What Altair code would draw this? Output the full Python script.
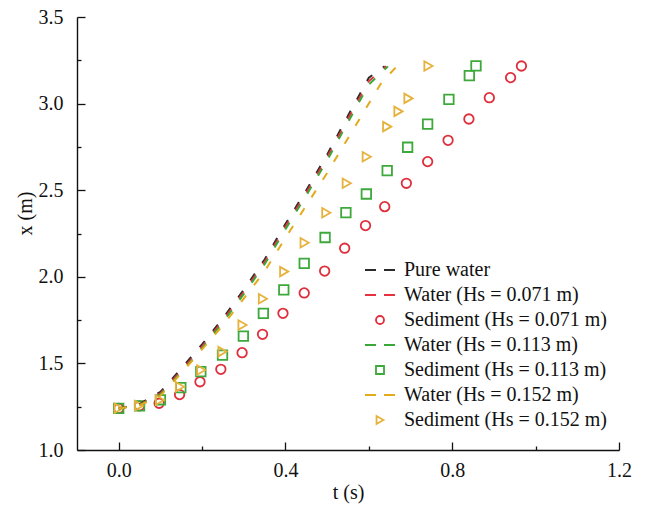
import altair as alt
import pandas as pd

# ---------------- data ----------------
SERIES = [
    "Pure water",
    "Water (Hs = 0.071 m)",
    "Sediment (Hs = 0.071 m)",
    "Water (Hs = 0.113 m)",
    "Sediment (Hs = 0.113 m)",
    "Water (Hs = 0.152 m)",
    "Sediment (Hs = 0.152 m)",
]
COLORS = ["#2b2b2b", "#e5323f", "#df2f3c", "#3aa838", "#3ca93a", "#e3aa1c", "#e6b23c"]
DASH = "M-3.75,0H-1M1,0H3.75"
SHAPES = [DASH, DASH, "circle", DASH, "square", DASH, "triangle-right"]

# dashed model curves (water)
t_pure = [0.0, 0.05, 0.1, 0.15, 0.2, 0.25, 0.3, 0.35, 0.4, 0.45, 0.5, 0.55, 0.6, 0.638]
x_pure = [1.24, 1.265, 1.335, 1.47, 1.61, 1.76, 1.925, 2.10, 2.305, 2.50, 2.705, 2.93, 3.15, 3.215]

t_w071 = [0.0, 0.05, 0.1, 0.15, 0.2, 0.25, 0.3, 0.35, 0.4, 0.45, 0.5, 0.55, 0.6, 0.642]
x_w071 = [1.24, 1.262, 1.327, 1.458, 1.598, 1.748, 1.912, 2.086, 2.29, 2.486, 2.69, 2.912, 3.13, 3.215]

t_w113 = [0.0, 0.05, 0.1, 0.15, 0.2, 0.25, 0.3, 0.35, 0.4, 0.45, 0.5, 0.55, 0.6, 0.646]
x_w113 = [1.24, 1.26, 1.32, 1.447, 1.587, 1.737, 1.90, 2.072, 2.275, 2.47, 2.672, 2.893, 3.11, 3.215]

t_w152 = [0.0, 0.05, 0.1, 0.15, 0.2, 0.25, 0.3, 0.35, 0.4, 0.45, 0.5, 0.55, 0.6, 0.63, 0.665]
x_w152 = [1.24, 1.258, 1.313, 1.443, 1.581, 1.72, 1.874, 2.032, 2.225, 2.412, 2.60, 2.80, 3.0, 3.12, 3.21]

# measured sediment positions
t_s071 = [0.0, 0.05, 0.097, 0.146, 0.195, 0.245, 0.296, 0.345, 0.394, 0.445, 0.494,
          0.542, 0.592, 0.638, 0.69, 0.741, 0.79, 0.84, 0.889, 0.94, 0.966]
x_s071 = [1.24, 1.255, 1.27, 1.32, 1.394, 1.466, 1.562, 1.668, 1.789, 1.907, 2.033,
          2.165, 2.296, 2.405, 2.54, 2.665, 2.788, 2.911, 3.034, 3.15, 3.217]

t_s113 = [0.0, 0.05, 0.1, 0.149, 0.197, 0.249, 0.299, 0.347, 0.396, 0.445, 0.495,
          0.545, 0.594, 0.644, 0.693, 0.741, 0.792, 0.841, 0.857]
x_s113 = [1.24, 1.255, 1.29, 1.36, 1.452, 1.548, 1.658, 1.789, 1.924, 2.078, 2.227,
          2.37, 2.478, 2.613, 2.748, 2.882, 3.024, 3.162, 3.218]

t_s152 = [0.0, 0.049, 0.099, 0.147, 0.198, 0.249, 0.297, 0.346, 0.397, 0.446, 0.498,
          0.547, 0.595, 0.644, 0.671, 0.695, 0.743]
x_s152 = [1.241, 1.256, 1.289, 1.365, 1.462, 1.568, 1.722, 1.873, 2.03, 2.197, 2.37,
          2.54, 2.693, 2.867, 2.955, 3.03, 3.217]

X_TICKS = [0.0, 0.2, 0.4, 0.6, 0.8, 1.0, 1.2]
Y_TICKS = [1.0, 1.25, 1.5, 1.75, 2.0, 2.25, 2.5, 2.75, 3.0, 3.25, 3.5]


def to_long(sets):
    rows = []
    for name, ts, xs in sets:
        for a, b in zip(ts, xs):
            rows.append({"series": name, "t": a, "x": b})
    return pd.DataFrame(rows)


line_df = to_long([
    (SERIES[0], t_pure, x_pure),
    (SERIES[1], t_w071, x_w071),
    (SERIES[3], t_w113, x_w113),
    (SERIES[5], t_w152, x_w152),
])
point_df = to_long([
    (SERIES[2], t_s071, x_s071),
    (SERIES[4], t_s113, x_s113),
    (SERIES[6], t_s152, x_s152),
])

FONT = "Liberation Serif"

xscale = alt.Scale(domain=[-0.1, 1.2], nice=False, zero=False)
yscale = alt.Scale(domain=[1.0, 3.5], nice=False, zero=False)
cscale = alt.Scale(domain=SERIES, range=COLORS)
sscale = alt.Scale(domain=SERIES, range=SHAPES)

xaxis = alt.Axis(
    values=X_TICKS,
    labelExpr="round(datum.value*10) % 4 == 0 ? format(datum.value, '.1f') : ''",
    tickSize={"expr": "round(datum.value*10) % 4 == 0 ? -8 : -4"},
    labelPadding=18,
    labelFlush=False,
    labelOverlap=False,
    grid=False,
    title="t (s)",
    titleY=42,
    titleBaseline="middle",
)
yaxis = alt.Axis(
    values=Y_TICKS,
    labelExpr="round(datum.value*4) % 2 == 0 ? format(datum.value, '.1f') : ''",
    tickSize={"expr": "round(datum.value*4) % 2 == 0 ? -8 : -4"},
    labelPadding=22,
    labelFlush=False,
    labelOverlap=False,
    grid=False,
    title="x (m)",
    titleX=-52,
    titleY=196,
    titleBaseline="middle",
)

legend = alt.Legend(title=None, orient="none", legendX=293, legendY=243)

points = alt.Chart(point_df).mark_point(filled=False, strokeWidth=1.8, size=90, opacity=1).encode(
    x=alt.X("t:Q", scale=xscale, axis=xaxis),
    y=alt.Y("x:Q", scale=yscale, axis=yaxis),
    color=alt.Color("series:N", scale=cscale, legend=legend),
    shape=alt.Shape("series:N", scale=sscale, legend=legend),
)

lines = alt.Chart(line_df).mark_line(strokeWidth=2, strokeDash=[8, 13]).encode(
    x=alt.X("t:Q", scale=xscale, axis=xaxis),
    y=alt.Y("x:Q", scale=yscale, axis=yaxis),
    color=alt.Color("series:N", scale=cscale, legend=None),
)

chart = (
    alt.layer(points, lines)
    .properties(
        width=542,
        height=433,
        padding={"left": 77, "top": 17, "right": 26, "bottom": 56},
        autosize=alt.AutoSizeParams(type="none"),
        background="white",
    )
    .configure_view(stroke=None)
    .configure_axis(
        labelFont=FONT,
        labelFontSize=20,
        labelColor="#111111",
        titleFont=FONT,
        titleFontSize=20,
        titleFontWeight="normal",
        titleColor="#111111",
        domainColor="#111111",
        domainWidth=1.4,
        tickColor="#111111",
        tickWidth=1.3,
    )
    .configure_legend(
        labelFont=FONT,
        labelFontSize=20,
        labelColor="#111111",
        labelLimit=400,
        symbolSize=64,
        symbolStrokeWidth=1.8,
        symbolOpacity=1,
        rowPadding=5,
        labelOffset=14,
        padding=0,
    )
)

chart.save("out.html", embed_options={"renderer": "svg", "actions": False})
